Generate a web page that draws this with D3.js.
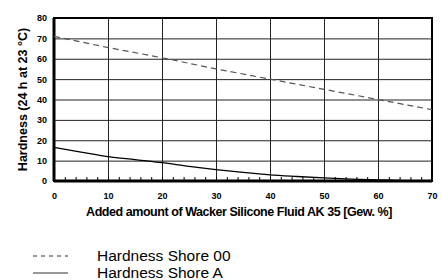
<!DOCTYPE html>
<html>
<head>
<meta charset="utf-8">
<script src="https://cdn.jsdelivr.net/npm/d3@7"></script>
<style>
  body { margin: 0; background: #fff; }
  svg { display: block; font-family: "Liberation Sans", Arial, sans-serif; }
</style>
</head>
<body>
<svg id="chart" width="442" height="280"></svg>
<script>
const shore00X = [0, 10, 20, 30, 40, 50, 60, 70];
const shore00Y = [71, 65.5, 60.5, 55, 50, 45, 40, 35];
const shoreAX = [0, 5, 10, 15, 20, 25, 30, 35, 40, 45, 50, 55, 60, 64];
const shoreAY = [16.5, 14.2, 12, 10.5, 9, 7.2, 5.6, 4.2, 3, 2.2, 1.5, 0.9, 0.5, 0.3];
const xTicks = [0, 10, 20, 30, 40, 50, 60, 70];
const yTicks = [0, 10, 20, 30, 40, 50, 60, 70, 80];
const legendLabels = ["Hardness Shore 00", "Hardness Shore A"];

const svg = d3.select("#chart");
const margin = { top: 18, right: 10, bottom: 99, left: 54 };
const width = 442 - margin.left - margin.right;
const height = 280 - margin.top - margin.bottom;

const x = d3.scaleLinear().domain([0, 70]).range([0, width]);
const y = d3.scaleLinear().domain([0, 80]).range([height, 0]);

const g = svg.append("g")
  .attr("transform", `translate(${margin.left},${margin.top})`);

// grid
g.append("g")
  .call(d3.axisLeft(y).tickValues(yTicks).tickSize(-width).tickFormat(""))
  .call(a => a.select(".domain").remove())
  .selectAll("line").attr("stroke", "#222").attr("stroke-width", 1);
g.append("g")
  .call(d3.axisTop(x).tickValues(xTicks).tickSize(-height).tickFormat(""))
  .call(a => a.select(".domain").remove())
  .selectAll("line").attr("stroke", "#222").attr("stroke-width", 1);

// minor ticks along bottom, pointing up
g.append("g")
  .attr("transform", `translate(0,${height})`)
  .call(d3.axisTop(x).tickValues(d3.range(0, 71, 2)).tickSize(4).tickFormat(""))
  .call(a => a.select(".domain").remove())
  .selectAll("line").attr("stroke", "#000").attr("stroke-width", 1);

// frame
g.append("rect")
  .attr("width", width).attr("height", height)
  .attr("fill", "none").attr("stroke", "#000").attr("stroke-width", 2);
g.append("line")
  .attr("x1", 0).attr("x2", width).attr("y1", height).attr("y2", height)
  .attr("stroke", "#000").attr("stroke-width", 3);
g.append("line")
  .attr("x1", 0).attr("x2", 0).attr("y1", 0).attr("y2", height)
  .attr("stroke", "#000").attr("stroke-width", 3);

// tick labels
g.append("g")
  .attr("transform", `translate(0,${height})`)
  .call(d3.axisBottom(x).tickValues(xTicks).tickSize(0).tickPadding(12))
  .call(a => a.select(".domain").remove())
  .selectAll("text")
  .attr("font-size", 9).attr("font-weight", "bold").attr("font-family", "Liberation Sans Narrow, Liberation Sans, Arial").attr("fill", "#000");
g.append("g")
  .call(d3.axisLeft(y).tickValues(yTicks).tickSize(0).tickPadding(7))
  .call(a => a.select(".domain").remove())
  .selectAll("text")
  .attr("font-size", 9).attr("font-weight", "bold").attr("font-family", "Liberation Sans Narrow, Liberation Sans, Arial").attr("fill", "#000");

// lines
const line = d3.line().x(d => x(d[0])).y(d => y(d[1]));
g.append("path")
  .datum(shore00X.map((v, i) => [v, shore00Y[i]]))
  .attr("d", line).attr("fill", "none")
  .attr("stroke", "#555").attr("stroke-width", 1.2).attr("stroke-dasharray", "6,4");
g.append("path")
  .datum(shoreAX.map((v, i) => [v, shoreAY[i]]))
  .attr("d", d3.line().curve(d3.curveMonotoneX).x(d => x(d[0])).y(d => y(d[1])))
  .attr("fill", "none").attr("stroke", "#000").attr("stroke-width", 1.3);

// axis titles
svg.append("text")
  .attr("x", 239).attr("y", 216)
  .attr("text-anchor", "middle")
  .attr("font-size", 12.5).attr("font-weight", "bold")
  .attr("letter-spacing", -0.45)
  .text("Added amount of Wacker Silicone Fluid AK 35 [Gew. %]");
svg.append("text")
  .attr("transform", `translate(26.5,${margin.top + height / 2}) rotate(-90)`)
  .attr("text-anchor", "middle")
  .attr("font-size", 12.5).attr("font-weight", "bold")
  .text("Hardness (24 h at 23 °C)");

// legend
const legend = svg.append("g");
legendLabels.forEach((label, i) => {
  const ly = 256 + i * 17;
  legend.append("line")
    .attr("x1", 33).attr("x2", 68).attr("y1", ly).attr("y2", ly)
    .attr("stroke", "#333").attr("stroke-width", 1)
    .attr("stroke-dasharray", i === 0 ? "4,4" : null);
  legend.append("text")
    .attr("x", 97).attr("y", ly + 5)
    .attr("font-size", 15.5)
    .text(label);
});
</script>
</body>
</html>
